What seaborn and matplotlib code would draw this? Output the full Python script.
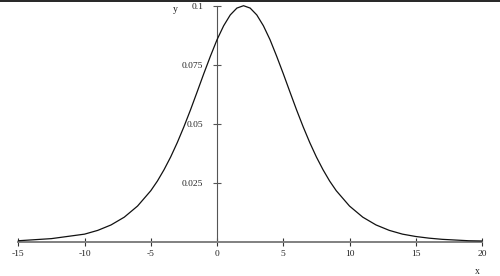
import matplotlib
matplotlib.use("Agg")
import matplotlib.pyplot as plt
import seaborn as sns
import pandas as pd
from matplotlib.lines import Line2D

# values
x_vals = [-15, -12.5, -10, -9, -8, -7, -6, -5, -4.5, -4, -3.5, -3, -2.5, -2,
          -1.5, -1, -0.5, 0, 0.5, 1, 1.5, 2, 2.5, 3, 3.5, 4, 4.5, 5, 5.5,
          6, 6.5, 7, 7.5, 8, 8.5, 9, 10, 11, 12, 13, 14, 15, 16, 17, 18,
          19, 20]
y_vals = [0.0004, 0.0013, 0.0032, 0.0048, 0.0071, 0.0104, 0.0151, 0.0216,
          0.0257, 0.0305, 0.0359, 0.0420, 0.0487, 0.0559, 0.0635, 0.0712,
          0.0786, 0.0856, 0.0915, 0.0961, 0.0990, 0.1000, 0.0990, 0.0961,
          0.0915, 0.0856, 0.0786, 0.0712, 0.0635, 0.0559, 0.0487, 0.0420,
          0.0359, 0.0305, 0.0257, 0.0216, 0.0151, 0.0104, 0.0071, 0.0048,
          0.0032, 0.0022, 0.0015, 0.0010, 0.0007, 0.0004, 0.0003]
x_ticks = [-15, -10, -5, 0, 5, 10, 15, 20]
x_tick_labels = ["-15", "-10", "-5", "0", "5", "10", "15", "20"]
y_ticks = [0.025, 0.05, 0.075, 0.1]
y_tick_labels = ["0.025", "0.05", "0.075", "0.1"]

sns.set_style("white")
plt.rcParams["font.family"] = ["Liberation Serif", "DejaVu Serif"]

df = pd.DataFrame({"x": x_vals, "y": y_vals})

fig = plt.figure(figsize=(5.0, 2.76), dpi=100)
ax = fig.add_axes([0.0366, 0.1243, 0.9274, 0.8550])
ax.set_facecolor("none")

sns.lineplot(data=df, x="x", y="y", ax=ax, color="#111111", linewidth=0.9,
             clip_on=False, zorder=5)

ax.set_xlim(-15, 20)
ax.set_ylim(0, 0.1)

for s in ["top", "right"]:
    ax.spines[s].set_visible(False)
ax.spines["left"].set_position(("data", 0))
ax.spines["bottom"].set_position(("data", 0))
ax.spines["left"].set_color("#555555")
ax.spines["left"].set_linewidth(0.8)
ax.spines["bottom"].set_color("#808080")
ax.spines["bottom"].set_linewidth(1.4)

ax.set_xticks(x_ticks)
ax.set_xticklabels(x_tick_labels)
ax.set_yticks(y_ticks)
ax.set_yticklabels(y_tick_labels)

ax.tick_params(axis="x", direction="inout", length=5.5, width=0.8,
               color="#333333", pad=3, labelsize=6.8, labelcolor="#222222",
               bottom=True)
ax.tick_params(axis="y", direction="inout", length=5.5, width=0.8,
               color="#555555", pad=7, labelsize=6.8, labelcolor="#222222",
               left=True)

ax.set_xlabel("")
ax.set_ylabel("")
fig.text(175 / 500, 1 - 9 / 276, "y", fontsize=7, ha="center", va="center",
         color="#222222")
fig.text(477 / 500, 1 - 272 / 276, "x", fontsize=7, ha="center", va="center",
         color="#222222")

# thin black rule along the top edge of the image
fig.add_artist(Line2D([0, 1], [0.998, 0.998], transform=fig.transFigure,
                      color="black", linewidth=1.2))

fig.savefig("out.png", dpi=100)
